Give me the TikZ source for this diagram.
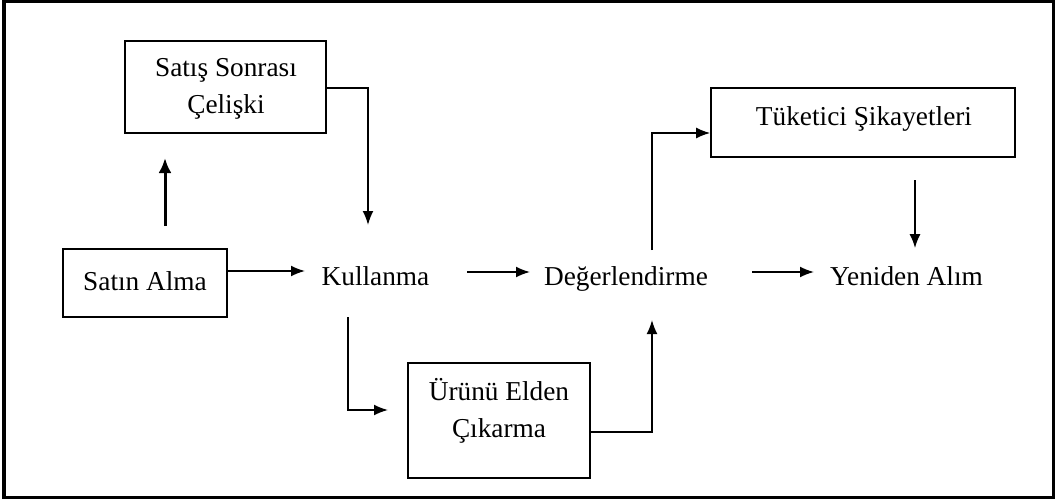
\documentclass[tikz,border=0pt]{standalone}
\usepackage{fontspec}
\setmainfont{Liberation Serif}
\usetikzlibrary{arrows.meta}
\begin{document}
\begin{tikzpicture}[x=1pt,y=-1pt,
  every node/.style={font=\fontsize{27.3}{37}\selectfont, inner sep=0pt},
  box/.style={draw, line width=1.6pt},
  txt/.style={align=center},
  lbl/.style={anchor=base},
  conn/.style={line width=1.7pt, -{Latex[length=14pt,width=11pt]}},
  thinconn/.style={line width=1.3pt, -{Latex[length=14pt,width=11pt]}},
  boldconn/.style={line width=3pt, -{Latex[length=15pt,width=13pt]}}]
\useasboundingbox (0,0) rectangle (1055,501);
\draw[line width=3.2pt] (4,1.6) rectangle (1053.4,497.4);
% boxes
\node[box, minimum width=201pt, minimum height=92pt] (sss) at (225.5,87) {};
\node[txt] (ssst) at (226,89) {Satış Sonrası\\Çelişki};
\node[box, minimum width=164pt, minimum height=68pt] (satin) at (145,283) {};
\node[lbl] (satint) at (145,290) {Satın Alma};
\node[box, minimum width=304pt, minimum height=69pt] (tuk) at (863,122.5) {};
\node[lbl] (tukt) at (864,125) {Tüketici Şikayetleri};
\node[box, minimum width=182pt, minimum height=115pt] (urun) at (499,420.5) {};
\node[txt] (urunt) at (499,411) {Ürünü Elden\\Çıkarma};
% plain labels
\node[lbl] (kul) at (375.5,285) {Kullanma};
\node[lbl] (deg) at (626,285) {Değerlendirme};
\node[lbl] (yen) at (906.5,285) {Yeniden Alım};
% helper coordinates
\coordinate (a1s) at (165,226);
\coordinate (a1e) at (165,158);
\coordinate (ktop) at (368,225);
\coordinate (satend) at (305,271);
\coordinate (k1) at (467,272);
\coordinate (k2) at (530,272);
\coordinate (d1) at (752,272);
\coordinate (d2) at (814,272);
\coordinate (kdown) at (348,317);
\coordinate (uin) at (388,410);
\coordinate (dup) at (652,320);
\coordinate (dtop) at (652,250);
\coordinate (tdown) at (915,180);
\coordinate (ytop) at (915,248);
% connectors
\draw[boldconn] (a1s) -- (a1e);
\draw[conn] (sss.east |- 0,88) -| (ktop);
\draw[conn] (satin.east |- satend) -- (satend);
\draw[conn] (k1) -- (k2);
\draw[conn] (d1) -- (d2);
\draw[conn] (kdown) |- (uin);
\draw[conn] (urun.east |- 0,432) -| (dup);
\draw[conn] (dtop) |- (tuk.west |- 0,133);
\draw[thinconn] (tdown) -- (ytop);
\end{tikzpicture}
\end{document}
